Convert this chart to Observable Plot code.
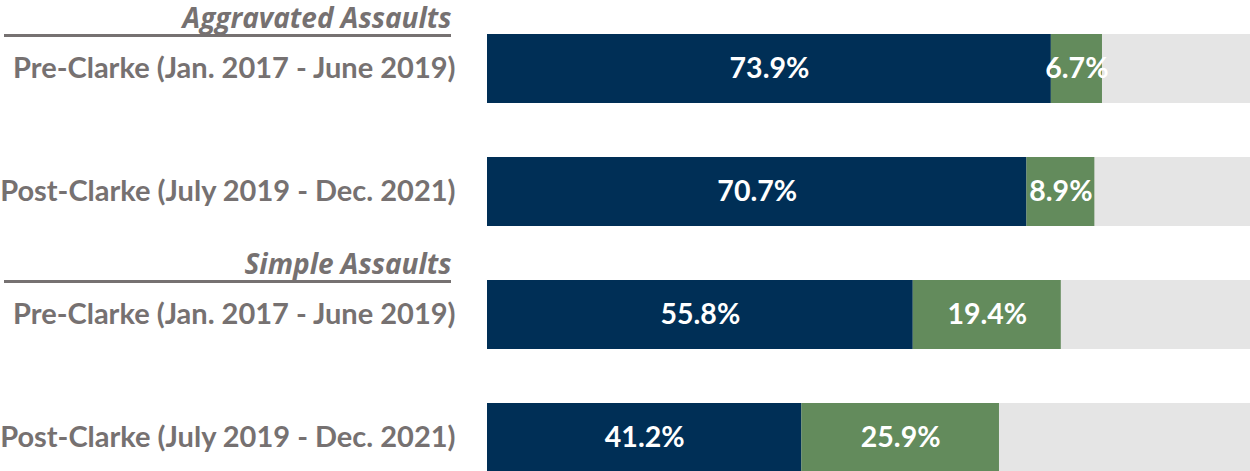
<!DOCTYPE html>
<html><head><meta charset="utf-8">
<script src="https://cdn.jsdelivr.net/npm/d3@7"></script>
<script src="https://cdn.jsdelivr.net/npm/@observablehq/plot@0.6"></script>
<style>body{margin:0;background:#fff;}</style>
</head><body><div id="chart"></div>
<script>
const rowKeys = ["agg-pre", "agg-post", "sim-pre", "sim-post"];
const rowLabels = ["Pre-Clarke (Jan. 2017 - June 2019)", "Post-Clarke (July 2019 - Dec. 2021)", "Pre-Clarke (Jan. 2017 - June 2019)", "Post-Clarke (July 2019 - Dec. 2021)"];
const navyValues = [73.9, 70.7, 55.8, 41.2];
const greenValues = [6.7, 8.9, 19.4, 25.9];
const totalValue = 100;
const groupHeaders = [{row: "agg-pre", label: "Aggravated Assaults"}, {row: "sim-pre", label: "Simple Assaults"}];

const labelOf = new Map(rowKeys.map((k, i) => [k, rowLabels[i]]));
const segs = [];
rowKeys.forEach((k, i) => {
  segs.push({row: k, series: "first", value: navyValues[i]});
  segs.push({row: k, series: "second", value: greenValues[i]});
});
const totals = rowKeys.map(k => ({row: k, value: totalValue}));

const FONT = "Lato, 'Open Sans', sans-serif";
const GRAY = "#767171";

const chart = Plot.plot({
  width: 1250, height: 471,
  marginLeft: 487, marginRight: 0, marginTop: 0, marginBottom: 0,
  style: {fontFamily: FONT, background: "#fff", overflow: "visible"},
  x: {domain: [0, 100], axis: null},
  y: {domain: rowKeys, range: [7, 499], paddingInner: 0.435, paddingOuter: 0.2175, axis: null},
  color: {domain: ["first", "second"], range: ["#002f56", "#638b5c"]},
  marks: [
    Plot.barX(totals, {x: "value", y: "row", fill: "#e5e5e5"}),
    Plot.barX(segs, Plot.stackX({x: "value", y: "row", fill: "series", order: ["first", "second"]})),
    Plot.text(segs, Plot.stackX({x: "value", y: "row", z: "series", order: ["first", "second"], text: d => d.value.toFixed(1) + "%", fill: "white", fontWeight: "bold", fontSize: 28.5})),
    Plot.axisY({tickSize: 0, tickPadding: 32, tickFormat: d => labelOf.get(d), fontSize: 29, fontWeight: "bold", color: GRAY, label: null}),
    Plot.text(groupHeaders, {frameAnchor: "left", y: "row", text: "label", dx: -36, dy: -50, textAnchor: "end", fill: GRAY, fontSize: 28, fontWeight: "bold", fontStyle: "italic", fontFamily: "'Open Sans', sans-serif"}),
    Plot.ruleY(groupHeaders, {y: "row", dy: -33.5, insetLeft: -483, insetRight: 799, stroke: GRAY, strokeWidth: 3})
  ]
});
document.getElementById("chart").appendChild(chart);
</script>
</body></html>
